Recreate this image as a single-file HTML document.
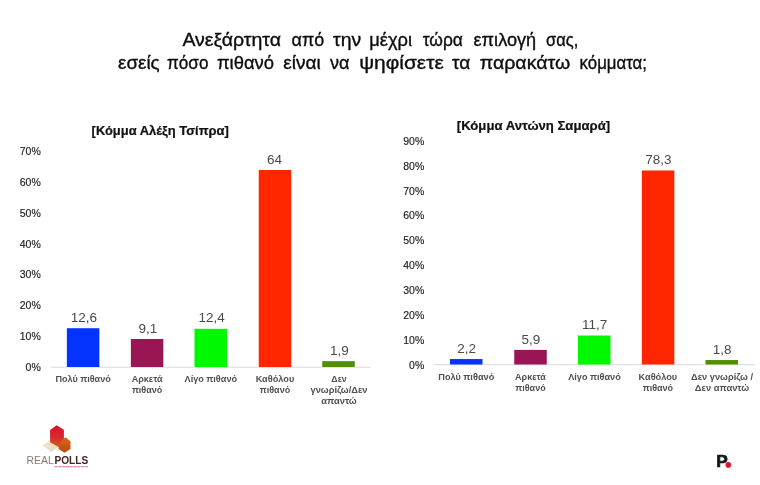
<!DOCTYPE html>
<html lang="el"><head><meta charset="utf-8"><title>Real Polls</title>
<style>
html,body{margin:0;padding:0;background:#fff;}
body{width:760px;height:485px;overflow:hidden;font-family:"Liberation Sans",sans-serif;}
svg{display:block;}
.t{font-family:"Liberation Sans",sans-serif;font-size:18.5px;fill:#0d0d0d;stroke:#0d0d0d;stroke-width:0.35px;}
.ct{font-family:"Liberation Sans",sans-serif;font-size:12px;font-weight:bold;fill:#111;stroke:#111;stroke-width:0.2px;}
.ax{font-family:"Liberation Sans",sans-serif;font-size:10.5px;fill:#222;stroke:#222;stroke-width:0.15px;text-anchor:end;}
.v{font-family:"Liberation Sans",sans-serif;font-size:13.5px;fill:#4a4a4a;text-anchor:middle;}
.c{font-family:"Liberation Sans",sans-serif;font-size:9.6px;font-weight:bold;fill:#505050;text-anchor:middle;}
</style></head><body>
<svg width="760" height="485" viewBox="0 0 760 485">
<rect width="760" height="485" fill="#ffffff"/>
<text class="t" x="182.4" y="45.8" textLength="98.7" lengthAdjust="spacingAndGlyphs">Ανεξάρτητα</text>
<text class="t" x="291.6" y="45.8" textLength="32.6" lengthAdjust="spacingAndGlyphs">από</text>
<text class="t" x="333.0" y="45.8" textLength="28.2" lengthAdjust="spacingAndGlyphs">την</text>
<text class="t" x="369.3" y="45.8" textLength="42.8" lengthAdjust="spacingAndGlyphs">μέχρι</text>
<text class="t" x="422.7" y="45.8" textLength="40.2" lengthAdjust="spacingAndGlyphs">τώρα</text>
<text class="t" x="473.5" y="45.8" textLength="62.7" lengthAdjust="spacingAndGlyphs">επιλογή</text>
<text class="t" x="546.1" y="45.8" textLength="32.2" lengthAdjust="spacingAndGlyphs">σας,</text>
<text class="t" x="118.0" y="69.3" textLength="41.7" lengthAdjust="spacingAndGlyphs">εσείς</text>
<text class="t" x="167.1" y="69.3" textLength="41.3" lengthAdjust="spacingAndGlyphs">πόσο</text>
<text class="t" x="216.9" y="69.3" textLength="57.1" lengthAdjust="spacingAndGlyphs">πιθανό</text>
<text class="t" x="283.2" y="69.3" textLength="37.6" lengthAdjust="spacingAndGlyphs">είναι</text>
<text class="t" x="330.0" y="69.3" textLength="19.5" lengthAdjust="spacingAndGlyphs">να</text>
<text class="t" x="359.2" y="69.3" textLength="84.6" lengthAdjust="spacingAndGlyphs">ψηφίσετε</text>
<text class="t" x="452.0" y="69.3" textLength="18.3" lengthAdjust="spacingAndGlyphs">τα</text>
<text class="t" x="479.7" y="69.3" textLength="90.6" lengthAdjust="spacingAndGlyphs">παρακάτω</text>
<text class="t" x="579.6" y="69.3" textLength="67.4" lengthAdjust="spacingAndGlyphs">κόμματα;</text>
<text class="ct" x="91.6" y="134.8" textLength="137.2" lengthAdjust="spacingAndGlyphs">[Κόμμα Αλέξη Τσίπρα]</text>
<text class="ct" x="456.8" y="129.8" textLength="153.3" lengthAdjust="spacingAndGlyphs">[Κόμμα Αντώνη Σαμαρά]</text>
<text class="ax" x="40.8" y="370.80">0%</text>
<text class="ax" x="40.8" y="340.02">10%</text>
<text class="ax" x="40.8" y="309.24">20%</text>
<text class="ax" x="40.8" y="278.46">30%</text>
<text class="ax" x="40.8" y="247.68">40%</text>
<text class="ax" x="40.8" y="216.90">50%</text>
<text class="ax" x="40.8" y="186.12">60%</text>
<text class="ax" x="40.8" y="155.34">70%</text>
<text class="ax" x="424.3" y="368.50">0%</text>
<text class="ax" x="424.3" y="343.65">10%</text>
<text class="ax" x="424.3" y="318.80">20%</text>
<text class="ax" x="424.3" y="293.95">30%</text>
<text class="ax" x="424.3" y="269.10">40%</text>
<text class="ax" x="424.3" y="244.25">50%</text>
<text class="ax" x="424.3" y="219.40">60%</text>
<text class="ax" x="424.3" y="194.55">70%</text>
<text class="ax" x="424.3" y="169.70">80%</text>
<text class="ax" x="424.3" y="144.85">90%</text>
<rect x="50.5" y="366.7" width="320" height="1" fill="#d9d9d9"/>
<rect x="434" y="364.2" width="321" height="1" fill="#d9d9d9"/>
<rect x="66.85" y="328.22" width="32.5" height="38.78" fill="#0433FF"/>
<text class="v" x="83.90" y="321.82">12,6</text>
<rect x="130.85" y="338.99" width="32.5" height="28.01" fill="#991554"/>
<text class="v" x="147.90" y="332.59">9,1</text>
<rect x="194.50" y="328.83" width="32.5" height="38.17" fill="#00F900"/>
<text class="v" x="211.55" y="322.43">12,4</text>
<rect x="258.75" y="170.01" width="32.5" height="196.99" fill="#FF2600"/>
<text class="v" x="274.50" y="163.61">64</text>
<rect x="322.25" y="361.15" width="32.5" height="5.85" fill="#4F8F00"/>
<text class="v" x="339.30" y="354.75">1,9</text>
<rect x="450.00" y="359.05" width="32.5" height="5.45" fill="#0433FF"/>
<text class="v" x="466.55" y="352.85">2,2</text>
<rect x="514.25" y="349.88" width="32.5" height="14.62" fill="#991554"/>
<text class="v" x="530.80" y="343.68">5,9</text>
<rect x="578.00" y="335.51" width="32.5" height="28.99" fill="#00F900"/>
<text class="v" x="594.55" y="329.31">11,7</text>
<rect x="641.85" y="170.47" width="32.5" height="194.03" fill="#FF2600"/>
<text class="v" x="658.40" y="164.27">78,3</text>
<rect x="705.50" y="360.04" width="32.5" height="4.46" fill="#4F8F00"/>
<text class="v" x="722.05" y="353.84">1,8</text>
<text class="c" x="83.1" y="382.10" textLength="55.25" lengthAdjust="spacingAndGlyphs">Πολύ πιθανό</text>
<text class="c" x="147.1" y="382.10" textLength="30.8" lengthAdjust="spacingAndGlyphs">Αρκετά</text>
<text class="c" x="147.1" y="392.95" textLength="30.3" lengthAdjust="spacingAndGlyphs">πιθανό</text>
<text class="c" x="210.8" y="382.10" textLength="52.5" lengthAdjust="spacingAndGlyphs">Λίγο πιθανό</text>
<text class="c" x="275.0" y="382.10" textLength="38.6" lengthAdjust="spacingAndGlyphs">Καθόλου</text>
<text class="c" x="275.0" y="392.95" textLength="30.3" lengthAdjust="spacingAndGlyphs">πιθανό</text>
<text class="c" x="339.0" y="382.10" textLength="15.3" lengthAdjust="spacingAndGlyphs">Δεν</text>
<text class="c" x="339.0" y="392.95" textLength="56.9" lengthAdjust="spacingAndGlyphs">γνωρίζω/Δεν</text>
<text class="c" x="339.0" y="403.80" textLength="35.4" lengthAdjust="spacingAndGlyphs">απαντώ</text>
<text class="c" x="466.25" y="379.90" textLength="56.0" lengthAdjust="spacingAndGlyphs">Πολύ πιθανό</text>
<text class="c" x="530.5" y="379.90" textLength="30.8" lengthAdjust="spacingAndGlyphs">Αρκετά</text>
<text class="c" x="530.5" y="390.75" textLength="30.3" lengthAdjust="spacingAndGlyphs">πιθανό</text>
<text class="c" x="594.5" y="379.90" textLength="52.5" lengthAdjust="spacingAndGlyphs">Λίγο πιθανό</text>
<text class="c" x="657.9" y="379.90" textLength="38.6" lengthAdjust="spacingAndGlyphs">Καθόλου</text>
<text class="c" x="657.9" y="390.75" textLength="30.3" lengthAdjust="spacingAndGlyphs">πιθανό</text>
<text class="c" x="722.0" y="379.90" textLength="62.0" lengthAdjust="spacingAndGlyphs">Δεν γνωρίζω /</text>
<text class="c" x="722.0" y="390.75" textLength="54.3" lengthAdjust="spacingAndGlyphs">Δεν απαντώ</text>
<defs>
<linearGradient id="gr" x1="0" y1="0" x2="0" y2="1"><stop offset="0" stop-color="#d5122f"/><stop offset="0.55" stop-color="#d92a2a"/><stop offset="1" stop-color="#d9601c"/></linearGradient>
<linearGradient id="go" x1="0" y1="0" x2="0" y2="1"><stop offset="0" stop-color="#d9661a"/><stop offset="1" stop-color="#b84a10"/></linearGradient>
<linearGradient id="gc" x1="0" y1="0" x2="1" y2="1"><stop offset="0" stop-color="#f7e3c4"/><stop offset="1" stop-color="#e3dbd0"/></linearGradient>
</defs>
<polygon points="42.3,445.2 50,440.4 59.2,446.4 51.3,451.9" fill="url(#gc)"/>
<polygon points="56.6,425.2 63.9,429.8 63.9,439 59.5,447.6 50.1,442.2 50.1,430" fill="url(#gr)"/>
<polygon points="65.8,437.2 70.5,441.5 70.5,449.1 64.5,452.7 58.5,449.1 58.9,444 63.9,438.6" fill="url(#go)"/>
<text x="26.6" y="463.8" font-family="'Liberation Sans',sans-serif" font-size="10.6" fill="#8a7a72" textLength="27.2" lengthAdjust="spacingAndGlyphs">REAL</text>
<text x="54.4" y="463.8" font-family="'Liberation Sans',sans-serif" font-size="10.6" font-weight="bold" fill="#3a2622" textLength="33.8" lengthAdjust="spacingAndGlyphs">POLLS</text>
<line x1="54.5" y1="466.7" x2="88" y2="466.7" stroke="#e58a96" stroke-width="1.3" stroke-dasharray="3.2 0.6"/>
<text x="716.2" y="466.8" font-family="'Liberation Sans',sans-serif" font-size="17.2" font-weight="bold" fill="#141414" stroke="#141414" stroke-width="0.7" stroke-linejoin="miter">P</text>
<circle cx="728.3" cy="464.9" r="2.8" fill="#e8112d"/>
</svg>
</body></html>
